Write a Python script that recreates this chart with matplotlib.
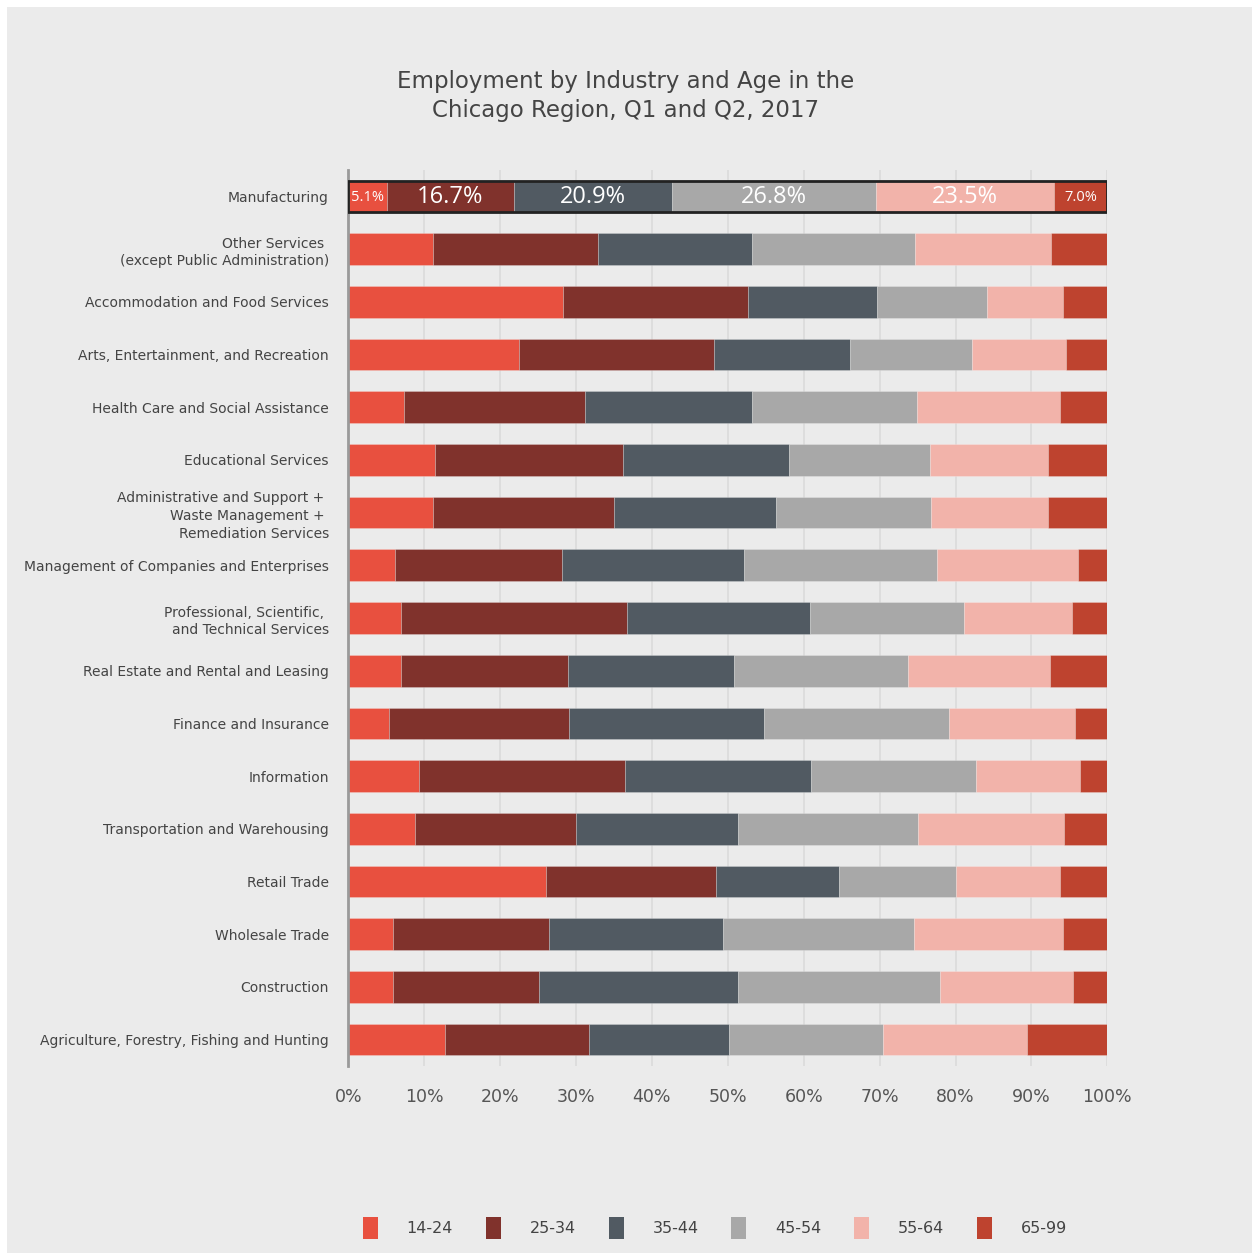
import matplotlib.pyplot as plt
from matplotlib.patches import Rectangle, Patch
import numpy as np

# Industries, top to bottom
industries = [
    "Manufacturing",
    "Other Services \n(except Public Administration)",
    "Accommodation and Food Services",
    "Arts, Entertainment, and Recreation",
    "Health Care and Social Assistance",
    "Educational Services",
    "Administrative and Support + \nWaste Management + \nRemediation Services",
    "Management of Companies and Enterprises",
    "Professional, Scientific, \nand Technical Services",
    "Real Estate and Rental and Leasing",
    "Finance and Insurance",
    "Information",
    "Transportation and Warehousing",
    "Retail Trade",
    "Wholesale Trade",
    "Construction",
    "Agriculture, Forestry, Fishing and Hunting",
]

age_groups = ["14-24", "25-34", "35-44", "45-54", "55-64", "65-99"]

# Share of employment (%) per age group, same order as industries
age_14_24 = [5.1, 11.1, 28.3, 22.5, 7.3, 11.4, 11.2, 6.1, 6.9, 6.9, 5.4, 9.3, 8.8, 26.0, 5.9, 5.9, 12.8]
age_25_34 = [16.7, 21.8, 24.4, 25.7, 23.9, 24.8, 23.8, 22.0, 29.8, 22.0, 23.7, 27.2, 21.2, 22.4, 20.6, 19.2, 18.9]
age_35_44 = [20.9, 20.3, 17.0, 17.9, 22.0, 21.9, 21.3, 24.1, 24.1, 21.9, 25.7, 24.5, 21.3, 16.3, 22.9, 26.2, 18.4]
age_45_54 = [26.8, 21.5, 14.4, 16.1, 21.7, 18.5, 20.5, 25.3, 20.3, 22.9, 24.4, 21.7, 23.8, 15.4, 25.1, 26.7, 20.4]
age_55_64 = [23.5, 17.9, 10.0, 12.3, 18.9, 15.6, 15.4, 18.7, 14.2, 18.7, 16.5, 13.7, 19.2, 13.7, 19.6, 17.5, 18.9]
age_65_99 = [7.0, 7.4, 5.9, 5.5, 6.2, 7.8, 7.8, 3.8, 4.7, 7.6, 4.3, 3.6, 5.7, 6.2, 5.9, 4.5, 10.6]

colors = ["#e8503f", "#80322c", "#515a62", "#a8a8a8", "#f2b3aa", "#be432f"]
bg = "#ebebeb"

series = [age_14_24, age_25_34, age_35_44, age_45_54, age_55_64, age_65_99]

fig = plt.figure(figsize=(12.52, 12.53), dpi=100, facecolor="white")
# grey panel with a thin white strip on the left and top
fig.patches.append(Rectangle((7 / 1252, 0), 1, 1 - 7 / 1253, transform=fig.transFigure,
                             facecolor=bg, edgecolor="none", zorder=-10))

ax = fig.add_axes([348.3 / 1252, 1 - 1066 / 1253, (1107.3 - 348.3) / 1252, (1066 - 170) / 1253])
ax.set_facecolor(bg)

y = np.arange(len(industries))
bar_h = 0.6
left = np.zeros(len(industries))
for vals, col, lab in zip(series, colors, age_groups):
    vals = np.array(vals)
    ax.barh(y, vals, left=left, height=bar_h, color=col, label=lab,
            edgecolor=(1, 1, 1, 0.3), linewidth=0.5, zorder=3)
    left += vals

# highlight Manufacturing with a frame and value labels
ax.add_patch(Rectangle((0, y[0] - bar_h / 2), 100, bar_h, fill=False,
                       edgecolor="#222222", linewidth=2, zorder=5))
start = 0
for vals in series:
    v = vals[0]
    big = v > 10
    ax.text(start + v / 2, y[0] + 0.02, f"{v:.1f}%", ha="center", va="center",
            color="white", fontsize=17 if big else 10.5,
            family=["Open Sans", "DejaVu Sans"], zorder=6)
    start += v

ax.set_xlim(0, 100)
ax.set_ylim(len(industries) - 0.5, -0.5)
ax.set_yticks(y)
ax.set_yticklabels(industries, fontsize=10, color="#444444", linespacing=1.35)
ax.set_xticks(np.arange(0, 101, 10))
ax.set_xticklabels([f"{t}%" for t in range(0, 101, 10)], fontsize=12.5, color="#555555")
ax.tick_params(axis="y", length=0, pad=14)
ax.tick_params(axis="x", length=0, pad=16)

ax.grid(axis="x", color="#dcdcdc", linewidth=1.3, zorder=0)
for s in ["top", "right", "bottom"]:
    ax.spines[s].set_visible(False)
ax.spines["left"].set_color("#9a9a9a")
ax.spines["left"].set_linewidth(2)
ax.spines["left"].set_zorder(4)

fig.text(0.5, 1 - 96 / 1253, "Employment by Industry and Age in the\nChicago Region, Q1 and Q2, 2017",
         ha="center", va="center", fontsize=16.5, color="#444444", linespacing=1.35)

handles = [Patch(facecolor=c, edgecolor="none") for c in colors]
fig.legend(handles, age_groups, loc="center", bbox_to_anchor=(715 / 1252, 1 - 1228 / 1253),
           ncol=6, frameon=False, fontsize=11.5, labelcolor="#444444",
           handlelength=0.95, handleheight=1.75, handletextpad=1.8, columnspacing=2.05)

fig.savefig("out.png", dpi=100, facecolor=fig.get_facecolor())
